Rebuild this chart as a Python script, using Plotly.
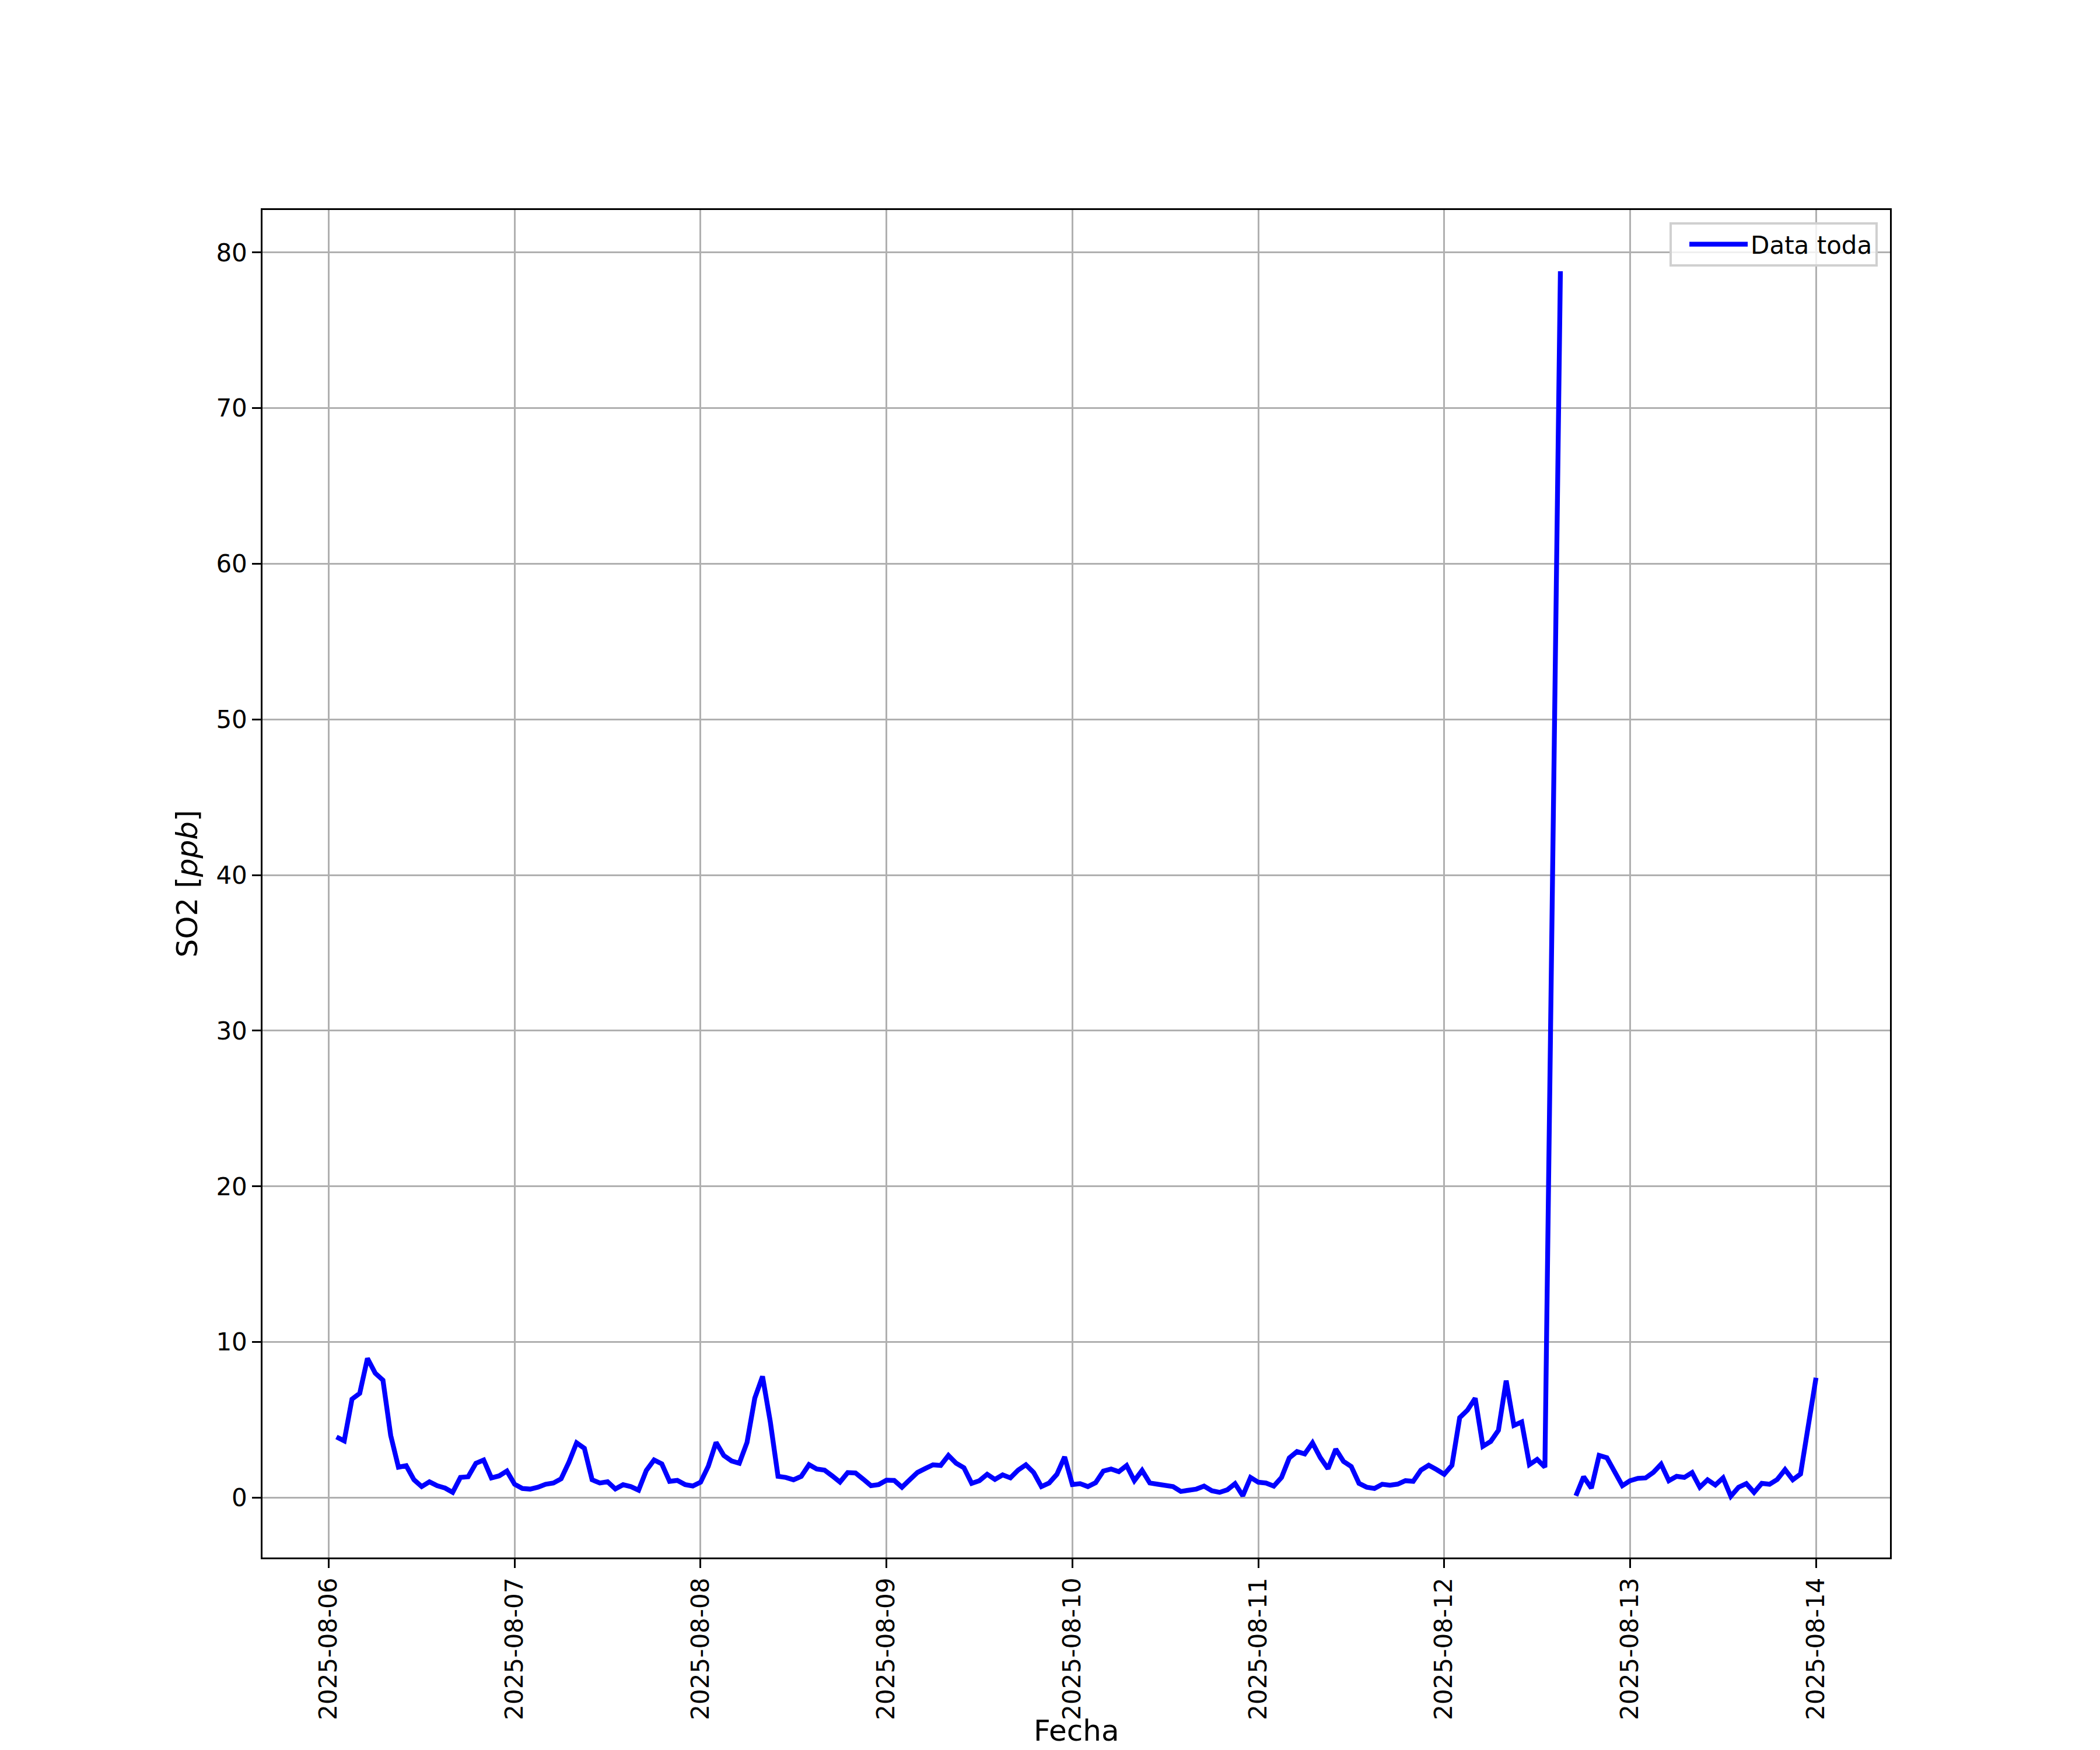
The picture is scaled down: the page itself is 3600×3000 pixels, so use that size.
import pandas as pd
import plotly.graph_objects as go

# hourly SO2 readings, 2025-08-06 01:00 .. 2025-08-14 00:00
start_time = "2025-08-06 01:00"
end_time = "2025-08-14 00:00"
missing_times = ["2025-08-12 14:00"]  # rows absent from the record

so2_day1 = [3.9, 3.65, 6.33, 6.7, 8.95, 8.0, 7.55, 4.0, 1.96, 2.05, 1.15, 0.71,
            1.02, 0.77, 0.62, 0.34, 1.3, 1.34, 2.21, 2.42, 1.27, 1.4, 1.71, 0.86]
so2_day2 = [0.59, 0.55, 0.67, 0.86, 0.94, 1.21, 2.27, 3.52, 3.17, 1.15, 0.94, 1.02,
            0.56, 0.83, 0.71, 0.48, 1.75, 2.42, 2.17, 1.05, 1.11, 0.84, 0.75, 0.99]
so2_day3 = [2.02, 3.55, 2.71, 2.36, 2.21, 3.55, 6.39, 7.79, 4.89, 1.37, 1.30, 1.15,
            1.37, 2.12, 1.84, 1.77, 1.40, 1.0, 1.61, 1.59, 1.19, 0.77, 0.84, 1.12]
so2_day4 = [1.11, 0.67, 1.15, 1.62, 1.87, 2.11, 2.07, 2.71, 2.21, 1.92, 0.92, 1.09,
            1.50, 1.17, 1.46, 1.27, 1.77, 2.11, 1.62, 0.71, 0.94, 1.50, 2.62, 0.84]
so2_day5 = [0.90, 0.71, 0.96, 1.71, 1.84, 1.67, 2.06, 1.09, 1.75, 0.94, 0.86, 0.80,
            0.71, 0.40, 0.49, 0.55, 0.74, 0.44, 0.34, 0.50, 0.90, 0.12, 1.30, 0.99]
so2_day6 = [0.94, 0.74, 1.30, 2.55, 2.96, 2.81, 3.52, 2.58, 1.86, 3.12, 2.33, 2.00,
            0.92, 0.67, 0.59, 0.86, 0.80, 0.87, 1.09, 1.05, 1.77, 2.08, 1.81, 1.50]
so2_day7 = [2.08, 5.14, 5.62, 6.39, 3.30, 3.61, 4.33, 7.52, 4.64, 4.86, 2.12, 2.46,
            1.96, None, 78.8, None, 0.12, 1.34, 0.61, 2.71, 2.56, 1.65, 0.77, 1.09]
so2_day8 = [1.24, 1.27, 1.62, 2.15, 1.09, 1.37, 1.30, 1.61, 0.67, 1.15, 0.81, 1.27,
            0.09, 0.67, 0.90, 0.34, 0.92, 0.86, 1.17, 1.80, 1.15, 1.52, 4.6, 7.70]

x_ticks = pd.date_range("2025-08-06", "2025-08-14", freq="D")
y_ticks = [0, 10, 20, 30, 40, 50, 60, 70, 80]
x_title = "Fecha"
y_title = "SO2 [<i>ppb</i>]"

so2 = so2_day1 + so2_day2 + so2_day3 + so2_day4 + so2_day5 + so2_day6 + so2_day7 + so2_day8
times = pd.date_range(start_time, end_time, freq="h")
series = pd.Series(so2, index=times, dtype="float64")
series = series.drop(pd.to_datetime(missing_times))
yvals = [None if pd.isna(v) else float(v) for v in series.values]

FONT = "DejaVu Sans"
fig = go.Figure()
fig.add_trace(go.Scatter(
    x=series.index, y=yvals, mode="lines", name="Data toda",
    line=dict(color="#0000ff", width=8.3), connectgaps=False,
))

# matplotlib-like 5% auto margins
span = times[-1] - times[0]
x_range = [times[0] - span * 0.05, times[-1] + span * 0.05]
ymin = min(v for v in yvals if v is not None)
ymax = max(v for v in yvals if v is not None)
ypad = (ymax - ymin) * 0.05

axis_common = dict(
    showline=True, mirror=True, linecolor="black", linewidth=3.33,
    showgrid=True, gridcolor="#b0b0b0", gridwidth=3.33,
    ticks="outside", ticklen=14.6, tickwidth=3.33, tickcolor="black",
    tickfont=dict(family=FONT, size=42, color="black"),
    zeroline=False, automargin=False,
)

fig.update_layout(
    width=3600, height=3000, autosize=False,
    paper_bgcolor="white", plot_bgcolor="white",
    margin=dict(l=450, r=360, t=360, b=330),
    font=dict(family=FONT, color="black"),
    showlegend=True,
    legend=dict(
        x=0.9925, y=0.991, xanchor="right", yanchor="top",
        bgcolor="rgba(255,255,255,0.8)", bordercolor="#d0d0d0", borderwidth=4,
        font=dict(family=FONT, size=42, color="black"),
        itemwidth=100, indentation=25,
    ),
    xaxis=dict(
        axis_common, range=x_range, tickvals=list(x_ticks),
        ticktext=[d.strftime("%Y-%m-%d") for d in x_ticks], tickangle=-90,
    ),
    yaxis=dict(
        axis_common, range=[ymin - ypad, ymax + ypad], tickvals=y_ticks,
        title=dict(text=y_title, font=dict(family=FONT, size=50, color="black"), standoff=16),
    ),
    annotations=[dict(
        text=x_title, xref="paper", yref="paper", x=0.5, y=0,
        xanchor="center", yanchor="middle", yshift=-297, showarrow=False,
        font=dict(family=FONT, size=50, color="black"),
    )],
)

fig.write_html("out.html", config={"displayModeBar": False},
               post_script="document.body.style.margin='0';")
